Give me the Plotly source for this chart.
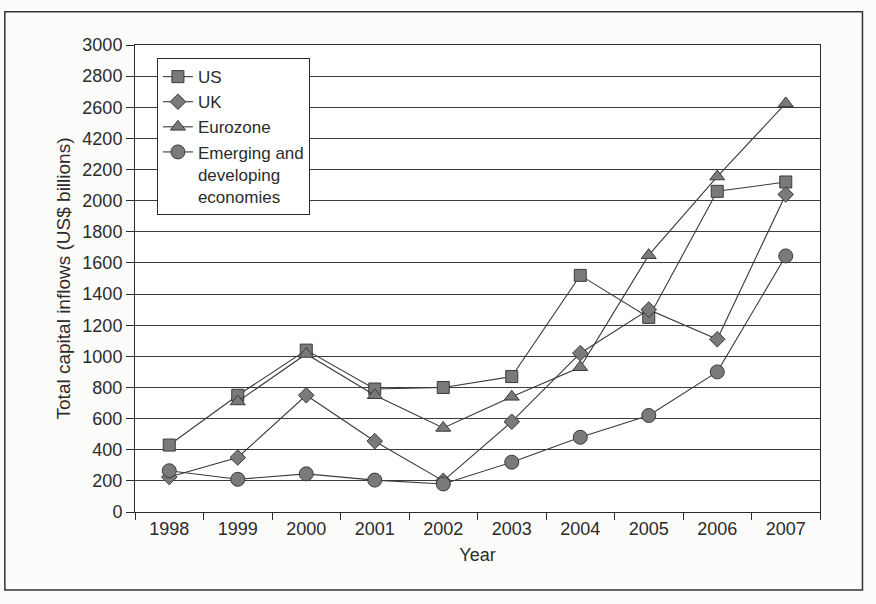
import plotly.graph_objects as go

# Annual total capital inflows, US$ billions
years = ["1998", "1999", "2000", "2001", "2002", "2003", "2004", "2005", "2006", "2007"]
us = [430, 750, 1040, 790, 800, 870, 1520, 1250, 2060, 2120]
uk = [225, 350, 750, 455, 200, 580, 1020, 1300, 1110, 2040]
eurozone = [None, 710, 1015, 750, 540, 740, 930, 1650, 2155, 2625]
emerging = [265, 210, 245, 205, 180, 320, 480, 620, 900, 1645]

# y tick labels as printed (the 2400 gridline carries the label "4200")
y_tickvals = list(range(0, 3001, 200))
y_ticktext = ["0", "200", "400", "600", "800", "1000", "1200", "1400", "1600",
              "1800", "2000", "2200", "4200", "2600", "2800", "3000"]

FONT = "Liberation Sans, Arial, sans-serif"
INK = "#2b2b2b"
FILL = "#7a7a7a"

series = [
    ("US", us, "square", 12),
    ("UK", uk, "diamond", 12),
    ("Eurozone", eurozone, "triangle-up", 13),
    ("Emerging and<br>developing<br>economies", emerging, "circle", 14),
]

fig = go.Figure()
for name, vals, symbol, size in series:
    fig.add_trace(go.Scatter(
        x=years, y=vals, name=name, mode="lines+markers",
        line=dict(color="#3a3a3a", width=1.1),
        marker=dict(symbol=symbol, size=size, color=FILL,
                    line=dict(color="#3a3a3a", width=1)),
        connectgaps=False,
    ))

fig.update_layout(
    width=876, height=604,
    margin=dict(l=135, r=56, t=45, b=92),
    paper_bgcolor="#fcfcfb",
    plot_bgcolor="#ffffff",
    font=dict(family=FONT, size=17, color=INK),
    showlegend=True,
    legend=dict(
        x=0.032, y=0.972, xanchor="left", yanchor="top",
        bgcolor="#ffffff", bordercolor=INK, borderwidth=1,
        font=dict(family=FONT, size=17, color=INK),
        tracegroupgap=0, itemwidth=30, valign="top",
    ),
    xaxis=dict(
        type="category", range=[-0.5, 9.5],
        tickson="boundaries", ticks="outside", ticklen=7, tickcolor=INK,
        showline=True, linecolor=INK, linewidth=1, mirror=True,
        showgrid=False, tickfont=dict(size=18),
        title=dict(text="Year", font=dict(size=18), standoff=10),
    ),
    yaxis=dict(
        range=[0, 3000], tickvals=y_tickvals, ticktext=y_ticktext,
        ticks="outside", ticklen=8, tickcolor=INK,
        showline=True, linecolor=INK, linewidth=1, mirror=True,
        showgrid=True, gridcolor="#3c3c3c", gridwidth=1,
        zeroline=False, tickfont=dict(size=18),
        title=dict(text="Total capital inflows (US$ billions)",
                   font=dict(size=19), standoff=6),
    ),
)

# page frame around the figure
fig.add_shape(type="rect", xref="paper", yref="paper",
              x0=-0.19, x1=1.062, y0=-0.167, y1=1.071,
              line=dict(color="#333333", width=1.5), layer="below")

fig.write_html("out.html")
